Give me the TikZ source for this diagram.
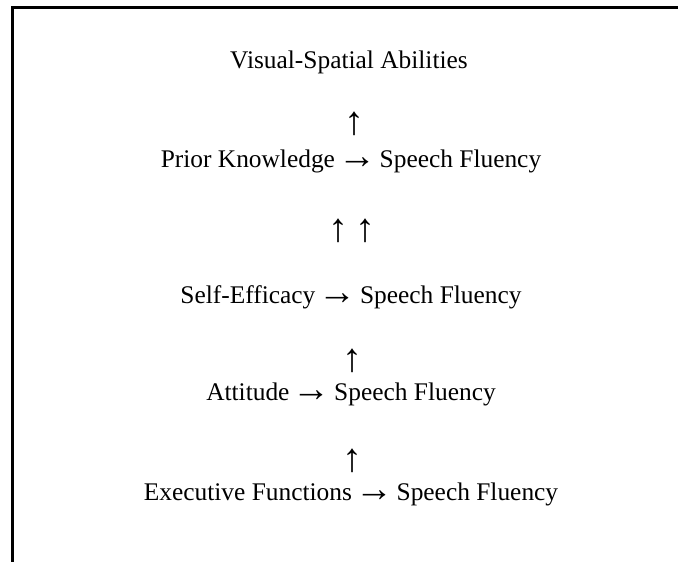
\documentclass[tikz,border=0pt]{standalone}
\usepackage{fontspec}
\setmainfont{Liberation Serif}
% long thin arrows, larger than the text's own arrow glyphs
\newcommand{\rarr}{\hspace{-3pt}\raisebox{-1pt}[12pt][0pt]{\fontsize{38}{38}\selectfont →}\hspace{-3pt}}
\newcommand{\uarr}{\smash{\fontsize{40}{40}\selectfont ↑}}
\begin{document}
\begin{tikzpicture}[x=1pt,y=-1pt,
  lbl/.style={inner sep=0pt,anchor=base,font=\fontsize{25.4}{30}\selectfont},
  uplbl/.style={lbl,text height=22pt,text depth=0pt}]
\useasboundingbox (0,0) rectangle (678,562);
% frame: top and left edges only
\draw[line width=2.2pt] (12.5,562) -- (12.5,7.5) -- (678,7.5);
\node[lbl] (vsa) at (349,68) {Visual-Spatial Abilities};
\node[uplbl] (up1) at (354,134) {\uarr};
\node[lbl] (pk) at (351,167) {Prior Knowledge \rarr{} Speech Fluency};
\node[uplbl] (up2) at (352,241) {\uarr\hspace{7pt}\uarr};
\node[lbl] (se) at (351,303) {Self-Efficacy \rarr{} Speech Fluency};
\node[uplbl] (up3) at (352,371) {\uarr};
\node[lbl] (att) at (351,400) {Attitude \rarr{} Speech Fluency};
\node[uplbl] (up4) at (352,471) {\uarr};
\node[lbl] (ef) at (351,500) {Executive Functions \rarr{} Speech Fluency};
\end{tikzpicture}
\end{document}
